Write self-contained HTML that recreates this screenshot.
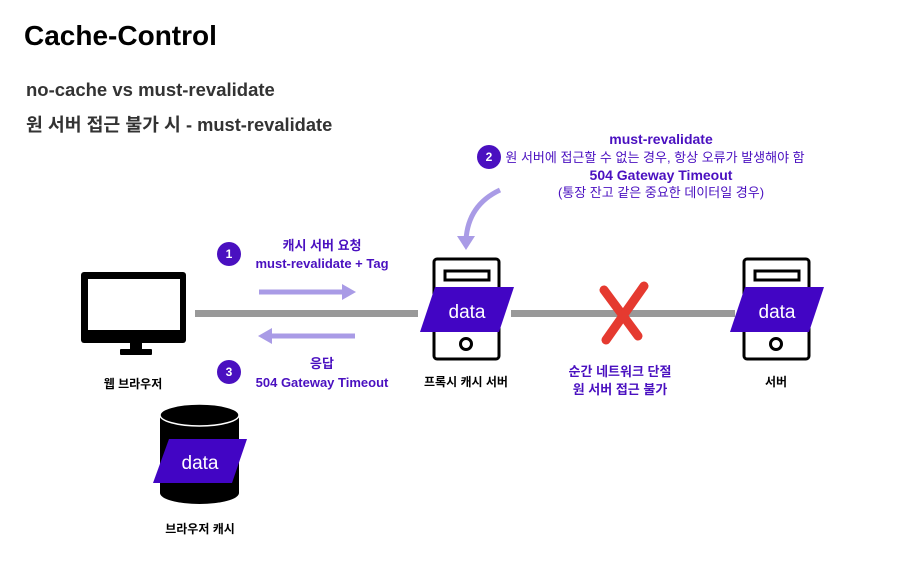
<!DOCTYPE html>
<html><head><meta charset="utf-8"><style>
html,body{margin:0;padding:0;background:#fff;}
svg{display:block;}
text{font-family:"Liberation Sans","Noto Sans CJK KR",sans-serif;}
</style></head><body>
<svg width="910" height="586" viewBox="0 0 910 586" xmlns="http://www.w3.org/2000/svg">
<text x="24" y="45" font-size="28" font-weight="bold" fill="#000">Cache-Control</text>
<text x="26" y="96" font-size="18.5" font-weight="bold" fill="#333">no-cache vs must-revalidate</text>
<text x="26" y="131" font-size="18.3" font-weight="bold" fill="#333">원 서버 접근 불가 시 - must-revalidate</text>

<!-- monitor -->
<rect x="81" y="272" width="105" height="71" rx="3" fill="#000"/>
<rect x="88" y="279" width="92" height="51" fill="#fff"/>
<rect x="130" y="342" width="12" height="9" fill="#000"/>
<rect x="120" y="349" width="32" height="6" rx="1" fill="#000"/>
<text x="133" y="388" font-size="12" font-weight="bold" text-anchor="middle">웹 브라우저</text>

<!-- lines -->
<rect x="195" y="310" width="223" height="7" fill="#999"/>
<rect x="511" y="310" width="224" height="7" fill="#999"/>

<!-- arrows -->
<g stroke="#a99be6" stroke-width="5" fill="none">
<line x1="259" y1="292" x2="345" y2="292"/>
<line x1="268" y1="336" x2="355" y2="336"/>
</g>
<polygon points="356,292 342,284 342,300" fill="#a99be6"/>
<polygon points="258,336 272,328 272,344" fill="#a99be6"/>

<g fill="#4a10c0">
<circle cx="229" cy="254" r="12"/>
<circle cx="229" cy="372" r="12"/>
<circle cx="489" cy="157" r="12"/>
</g>
<g fill="#fff" font-size="12" font-weight="bold" text-anchor="middle">
<text x="229" y="258">1</text><text x="229" y="376">3</text><text x="489" y="161">2</text>
</g>
<g fill="#4a10c0" font-size="13" font-weight="bold" text-anchor="middle">
<text x="322" y="250">캐시 서버 요청</text>
<text x="322" y="268">must-revalidate + Tag</text>
<text x="322" y="368">응답</text>
<text x="322" y="387">504 Gateway Timeout</text>
<text x="620" y="376">순간 네트워크 단절</text>
<text x="620" y="394">원 서버 접근 불가</text>
</g>
<g fill="#4a10c0" font-size="14" font-weight="bold" text-anchor="middle">
<text x="661" y="144">must-revalidate</text>
<text x="661" y="180">504 Gateway Timeout</text>
</g>
<g fill="#4a10c0" font-size="13" text-anchor="middle">
<text x="655" y="162">원 서버에 접근할 수 없는 경우, 항상 오류가 발생해야 함</text>
<text x="661" y="197">(통장 잔고 같은 중요한 데이터일 경우)</text>
</g>
<path d="M500 190 Q468 205 466 240" stroke="#a99be6" stroke-width="5" fill="none"/>
<polygon points="466,250 457,236 475,236" fill="#a99be6"/>

<!-- proxy server -->
<rect x="434" y="259" width="65" height="100" rx="3" fill="#fff" stroke="#000" stroke-width="3"/>
<rect x="445" y="271" width="44" height="9" fill="#fff" stroke="#000" stroke-width="3"/>
<circle cx="466" cy="344" r="5.5" fill="none" stroke="#000" stroke-width="3"/>
<polygon points="435,287 514,287 499,332 420,332" fill="#4205c4"/>
<text x="467" y="318" font-size="19" fill="#fff" text-anchor="middle">data</text>
<text x="466" y="386" font-size="12" font-weight="bold" text-anchor="middle">프록시 캐시 서버</text>

<!-- origin server -->
<rect x="744" y="259" width="65" height="100" rx="3" fill="#fff" stroke="#000" stroke-width="3"/>
<rect x="755" y="271" width="44" height="9" fill="#fff" stroke="#000" stroke-width="3"/>
<circle cx="776" cy="344" r="5.5" fill="none" stroke="#000" stroke-width="3"/>
<polygon points="745,287 824,287 809,332 730,332" fill="#4205c4"/>
<text x="777" y="318" font-size="19" fill="#fff" text-anchor="middle">data</text>
<text x="776" y="386" font-size="12" font-weight="bold" text-anchor="middle">서버</text>

<!-- X -->
<g stroke="#e53a30" stroke-width="9" stroke-linecap="round">
<line x1="604" y1="290" x2="638" y2="336"/>
<line x1="644" y1="286" x2="606" y2="340"/>
</g>

<!-- cylinder -->
<path d="M160 415 L160 493 A39.5 11 0 0 0 239 493 L239 415 Z" fill="#000"/>
<ellipse cx="199.5" cy="415" rx="39.5" ry="11" fill="#000" stroke="#fff" stroke-width="1.5"/>
<polygon points="169,439 247,439 232,483 153,483" fill="#4205c4"/>
<text x="200" y="469" font-size="19" fill="#fff" text-anchor="middle">data</text>
<text x="200" y="533" font-size="12" font-weight="bold" text-anchor="middle">브라우저 캐시</text>
</svg>
</body></html>
